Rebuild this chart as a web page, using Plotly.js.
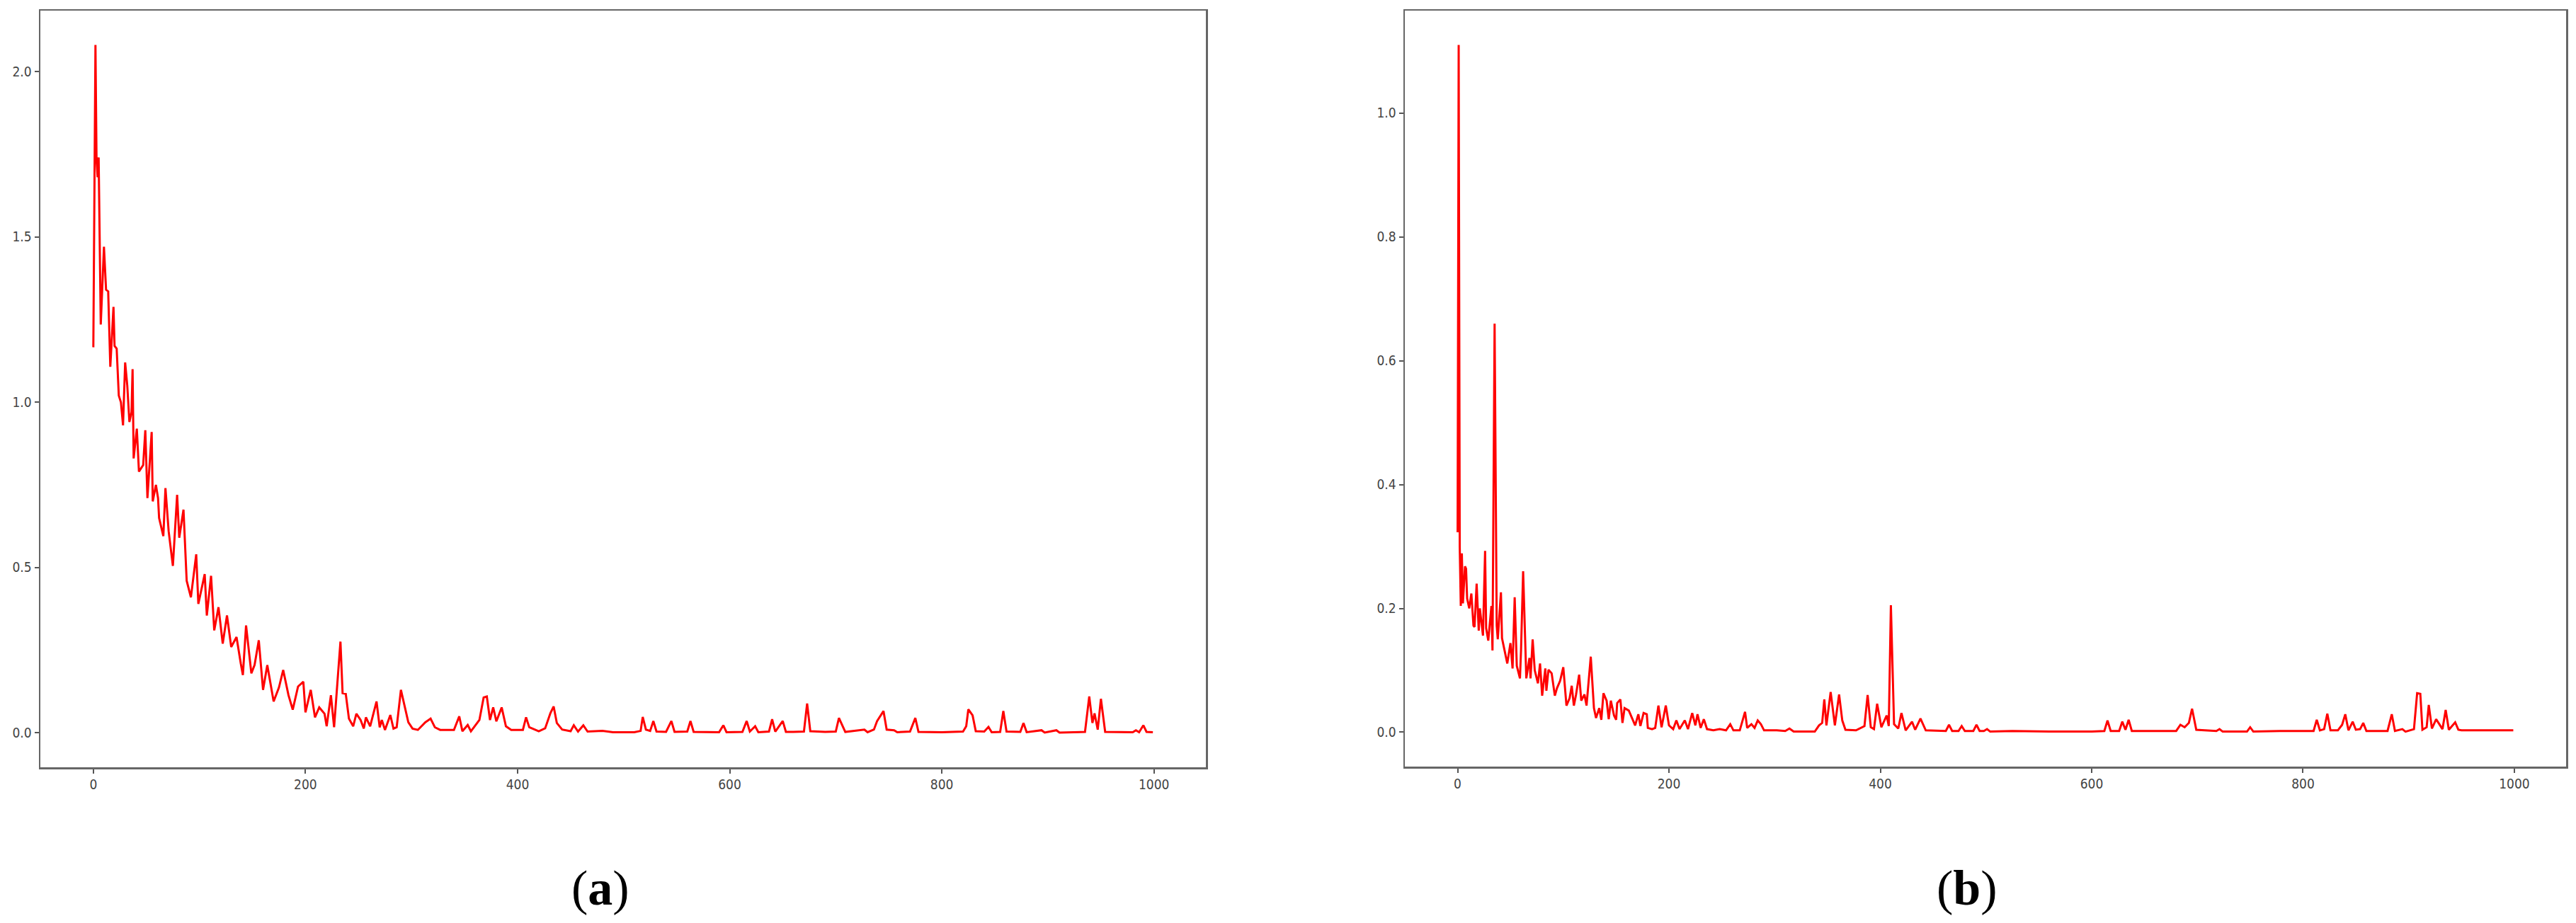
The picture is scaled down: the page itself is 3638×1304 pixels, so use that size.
<!DOCTYPE html>
<html>
<head>
<meta charset="utf-8">
<script src="https://cdn.plot.ly/plotly-3.0.1.min.js"></script>
<style>html,body{margin:0;padding:0;background:#fff;}#chart{width:3638px;height:1304px;}</style>
</head>
<body>
<div id="chart"></div>
<script>
// Panel (a) vertices (iteration, value)
const xA = [0,2,3,4,5,6,7,10,12,14,16,19,20,22,24,26,28,30,32,34,36,37,38,41,43,47,49,51,55,56,59,61,62,66,68,71,75,79,81,85,88,92,97,99,105,107,111,114,118,122,126,130,135,139,141,144,149,152,156,160,164,170,175,179,184,188,193,198,200,205,209,213,218,220,224,227,233,235,238,241,245,248,252,255,257,261,267,270,272,275,280,283,286,290,293,297,301,306,313,318,322,327,340,345,348,353,356,364,368,371,374,377,380,385,389,394,405,408,411,420,426,431,434,437,442,450,453,457,462,466,480,490,510,516,518,521,525,528,531,540,545,548,560,563,566,590,594,597,612,616,619,624,627,637,640,643,650,653,660,670,673,676,690,700,703,706,709,727,730,736,739,745,748,755,758,770,775,778,800,820,823,825,829,832,840,844,847,855,858,861,874,877,880,894,897,908,911,935,939,942,944,947,950,954,980,983,986,990,993,999];
const yA = [1.166,2.08,1.735,1.68,1.74,1.415,1.235,1.47,1.34,1.335,1.107,1.288,1.17,1.162,1.02,1.0,0.93,1.12,1.05,0.94,0.97,1.10,0.83,0.92,0.79,0.81,0.915,0.71,0.91,0.70,0.75,0.71,0.65,0.595,0.74,0.61,0.505,0.72,0.59,0.675,0.46,0.41,0.54,0.39,0.48,0.355,0.475,0.31,0.38,0.27,0.355,0.26,0.29,0.21,0.175,0.325,0.18,0.205,0.28,0.13,0.205,0.095,0.137,0.19,0.114,0.07,0.14,0.155,0.062,0.13,0.047,0.077,0.058,0.02,0.114,0.017,0.276,0.12,0.118,0.043,0.02,0.058,0.039,0.013,0.047,0.02,0.095,0.017,0.039,0.009,0.054,0.013,0.017,0.13,0.088,0.032,0.013,0.009,0.032,0.043,0.017,0.009,0.009,0.05,0.005,0.024,0.005,0.039,0.107,0.11,0.039,0.077,0.035,0.077,0.02,0.009,0.009,0.047,0.017,0.005,0.014,0.06,0.08,0.03,0.01,0.005,0.023,0.004,0.023,0.004,0.006,0.002,0.002,0.006,0.048,0.01,0.006,0.036,0.004,0.003,0.036,0.003,0.004,0.036,0.003,0.002,0.023,0.002,0.003,0.036,0.004,0.02,0.002,0.004,0.041,0.004,0.036,0.003,0.003,0.004,0.089,0.005,0.003,0.004,0.045,0.025,0.003,0.01,0.002,0.01,0.036,0.066,0.01,0.008,0.002,0.004,0.045,0.003,0.002,0.004,0.02,0.071,0.053,0.005,0.004,0.018,0.002,0.003,0.066,0.004,0.003,0.03,0.002,0.008,0.001,0.008,0.001,0.003,0.11,0.03,0.059,0.01,0.103,0.003,0.002,0.008,0.002,0.023,0.003,0.002];

// Panel (b) vertices
const xB = [0,1,2,3,4,5,7,8,9,11,13,15,16,18,20,21,24,26,27,29,32,33,35,37,38,41,42,44,47,50,52,54,56,59,60,62,64,65,68,69,71,73,76,78,80,83,84,86,89,92,94,97,100,103,106,108,110,112,115,117,120,122,126,129,131,134,136,138,141,143,145,148,150,151,154,156,158,162,165,168,171,173,176,179,180,184,187,190,193,197,200,204,207,210,215,218,222,225,227,230,233,236,242,248,254,258,261,267,272,274,278,281,284,287,290,302,310,314,318,338,342,345,347,349,353,357,361,364,367,377,385,388,391,394,397,401,406,408,410,413,417,420,424,430,433,438,443,462,465,468,474,477,480,488,491,494,498,501,504,525,560,600,612,615,618,626,629,632,635,638,680,684,688,692,695,699,718,721,724,747,750,753,778,810,813,816,820,823,826,833,837,840,843,847,850,854,857,860,880,884,887,894,897,905,908,911,913,917,919,922,926,929,932,935,938,941,944,947,950,999];
const yB = [0.323,1.11,0.30,0.204,0.289,0.208,0.268,0.264,0.216,0.2,0.224,0.172,0.17,0.24,0.164,0.2,0.156,0.293,0.168,0.148,0.204,0.132,0.66,0.172,0.15,0.226,0.152,0.136,0.111,0.144,0.103,0.218,0.107,0.087,0.132,0.26,0.152,0.087,0.12,0.087,0.15,0.1,0.079,0.111,0.059,0.103,0.067,0.101,0.095,0.059,0.071,0.083,0.105,0.043,0.055,0.075,0.043,0.06,0.093,0.051,0.061,0.043,0.122,0.039,0.023,0.039,0.02,0.063,0.051,0.021,0.051,0.027,0.02,0.047,0.053,0.015,0.039,0.035,0.023,0.011,0.029,0.01,0.031,0.029,0.007,0.005,0.007,0.043,0.008,0.043,0.011,0.005,0.019,0.005,0.019,0.005,0.031,0.011,0.029,0.007,0.021,0.005,0.003,0.005,0.003,0.013,0.003,0.003,0.033,0.007,0.013,0.007,0.019,0.013,0.003,0.003,0.002,0.006,0.001,0.001,0.011,0.015,0.053,0.011,0.065,0.011,0.061,0.019,0.004,0.003,0.01,0.06,0.008,0.005,0.046,0.008,0.027,0.01,0.205,0.013,0.006,0.031,0.003,0.017,0.004,0.022,0.003,0.002,0.012,0.002,0.002,0.01,0.002,0.002,0.012,0.002,0.002,0.005,0.001,0.002,0.001,0.001,0.002,0.019,0.002,0.002,0.017,0.004,0.02,0.002,0.002,0.012,0.008,0.015,0.038,0.004,0.002,0.005,0.001,0.001,0.008,0.001,0.002,0.002,0.02,0.003,0.005,0.03,0.003,0.003,0.012,0.029,0.003,0.017,0.004,0.005,0.015,0.002,0.002,0.029,0.002,0.005,0.001,0.005,0.063,0.062,0.004,0.008,0.044,0.006,0.021,0.013,0.005,0.036,0.004,0.01,0.016,0.004,0.003,0.003];

const xTicks = [0,200,400,600,800,1000];
const yTicksA = [0,0.5,1.0,1.5,2.0];
const yTicksB = [0,0.2,0.4,0.6,0.8,1.0];
const captions = ['(<b>a</b>)','(<b>b</b>)'];

const W = 3638, H = 1304;
const tickFont = {family: 'Liberation Sans Narrow, DejaVu Sans Condensed, Liberation Sans, sans-serif', size: 19, color: '#444'};
function axisBase(extra){
  return Object.assign({
    showline: true, linecolor: '#666', linewidth: 2.5, mirror: true,
    ticks: 'outside', ticklen: 6, tickwidth: 2, tickcolor: '#555',
    showgrid: false, zeroline: false, tickfont: tickFont, automargin: false
  }, extra);
}

const traces = [
  {x: xA, y: yA, type: 'scatter', mode: 'lines', line: {color: '#ff0000', width: 3}, xaxis: 'x', yaxis: 'y', hoverinfo: 'skip'},
  {x: xB, y: yB, type: 'scatter', mode: 'lines', line: {color: '#ff0000', width: 3}, xaxis: 'x2', yaxis: 'y2', hoverinfo: 'skip'}
];

const layout = {
  width: W, height: H,
  margin: {l: 0, r: 0, t: 0, b: 0},
  paper_bgcolor: '#fff', plot_bgcolor: '#fff',
  showlegend: false,
  xaxis: axisBase({domain: [57/W, 1703/W], range: [-49.95, 1048.95], tickvals: xTicks, ticktext: xTicks.map(String), anchor: 'y'}),
  yaxis: axisBase({domain: [1-1084/H, 1-15/H], range: [-0.104, 2.184], tickvals: yTicksA, ticktext: yTicksA.map(v => v.toFixed(1)), anchor: 'x'}),
  xaxis2: axisBase({domain: [1984/W, 3624/W], range: [-49.95, 1048.95], tickvals: xTicks, ticktext: xTicks.map(String), anchor: 'y2'}),
  yaxis2: axisBase({domain: [1-1083/H, 1-15/H], range: [-0.0555, 1.1655], tickvals: yTicksB, ticktext: yTicksB.map(v => v.toFixed(1)), anchor: 'x2'}),
  annotations: [
    {text: captions[0], x: 848/W, y: 1-1254/H, xref: 'paper', yref: 'paper', xanchor: 'center', yanchor: 'middle', showarrow: false,
     font: {family: 'Liberation Serif, Times New Roman, serif', size: 70, color: '#000'}},
    {text: captions[1], x: 2778/W, y: 1-1254/H, xref: 'paper', yref: 'paper', xanchor: 'center', yanchor: 'middle', showarrow: false,
     font: {family: 'Liberation Serif, Times New Roman, serif', size: 70, color: '#000'}}
  ]
};

Plotly.newPlot('chart', traces, layout, {staticPlot: true, displayModeBar: false});
</script>
</body>
</html>
